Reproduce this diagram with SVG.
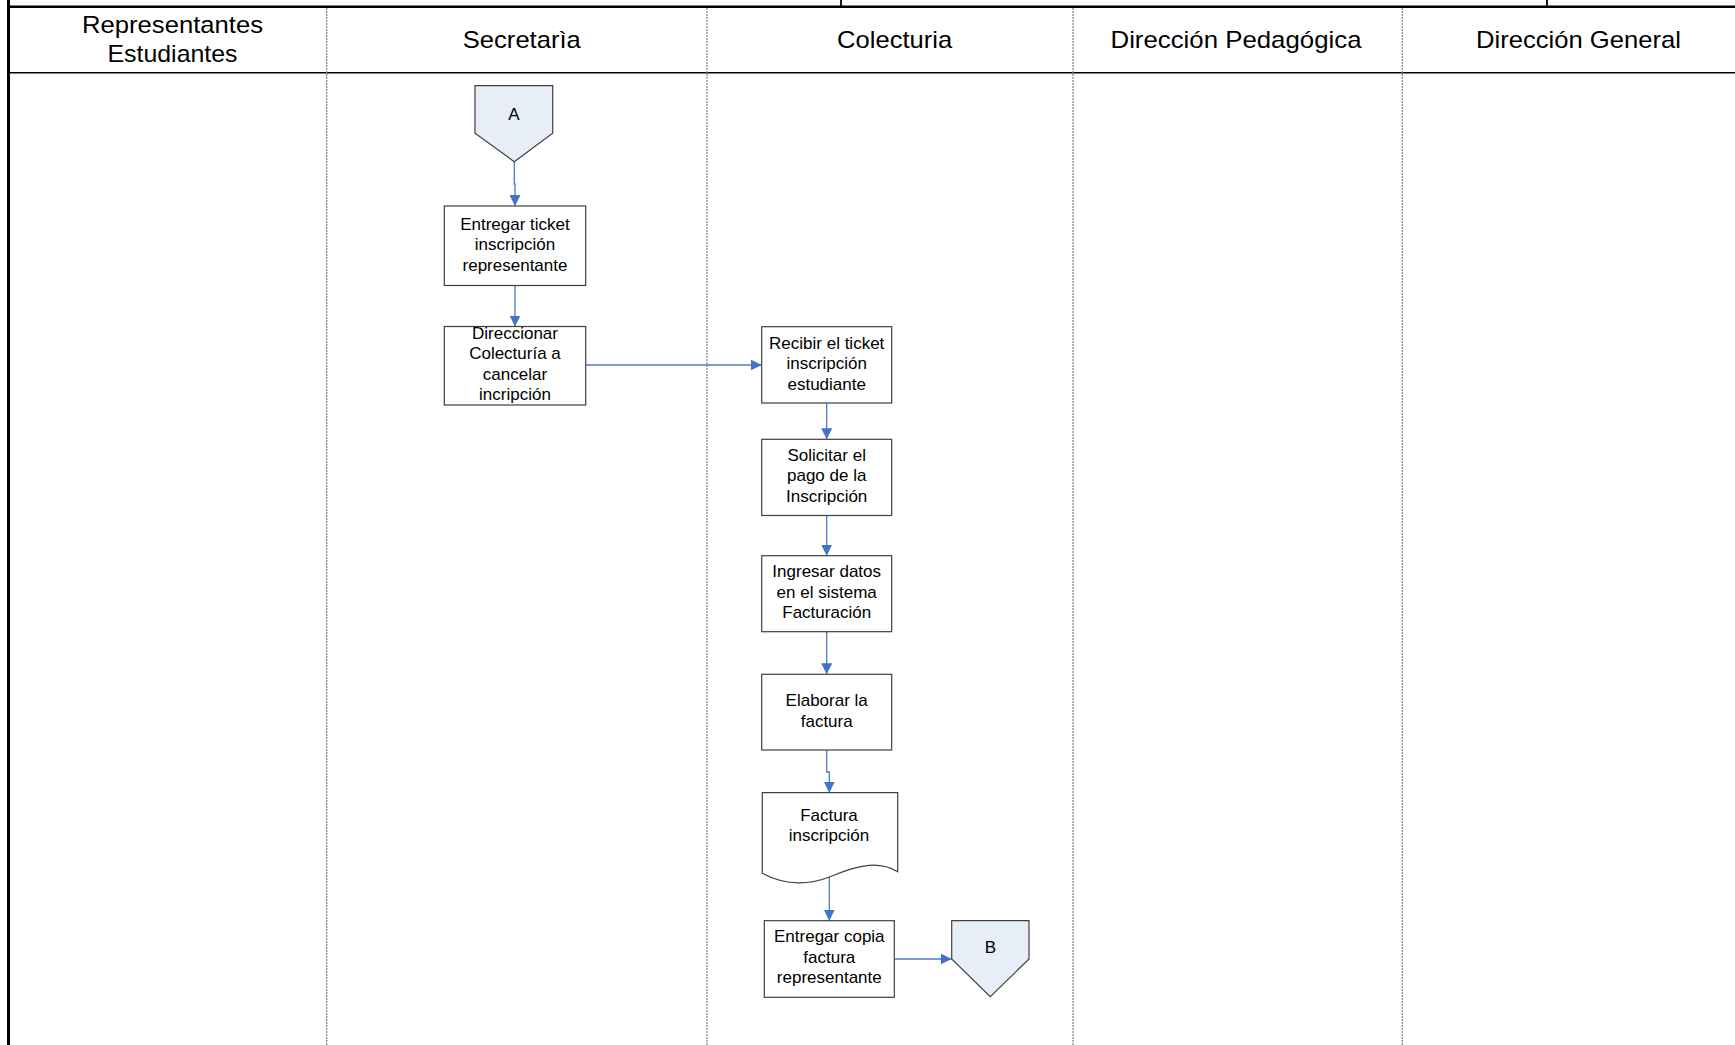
<svg xmlns="http://www.w3.org/2000/svg" width="1735" height="1045" viewBox="0 0 1735 1045">
  <defs>
    <style>
      .frame { stroke: #000; fill: none; }
      .lane { stroke: #7f7f7f; stroke-width: 1.2; stroke-dasharray: 2 1; fill: none; }
      .hdr { font-family: "Liberation Sans", Arial, sans-serif; font-size: 24px; fill: #000; text-anchor: middle; }
      .box { fill: #fff; stroke: #404040; stroke-width: 1.2; }
      .conn { fill: #e8eef8; stroke: #404040; stroke-width: 1.2; }
      .lbl { font-family: "Liberation Sans", Arial, sans-serif; font-size: 17px; fill: #000; text-anchor: middle; }
      .flow { fill: none; stroke: #4a7cc7; stroke-width: 1.3; }
    </style>
    <marker id="arrow" markerUnits="userSpaceOnUse" markerWidth="12" markerHeight="11" refX="11" refY="5.5" orient="auto">
      <path d="M0,0 L11,5.5 L0,11 Z" fill="#4472c4"/>
    </marker>
  </defs>

  <rect width="1735" height="1045" fill="#fff"/>

  <!-- swimlane frame -->
  <g id="frame">
    <line class="frame" x1="7" y1="6.7" x2="1735" y2="6.7" stroke-width="2.6"/>
    <line class="frame" x1="841" y1="0" x2="841" y2="6.7" stroke-width="1.8"/>
    <line class="frame" x1="1547" y1="0" x2="1547" y2="6.7" stroke-width="1.8"/>
    <line class="frame" x1="8.5" y1="0" x2="8.5" y2="1045" stroke-width="3"/>
    <line class="frame" x1="9" y1="72.7" x2="1735" y2="72.7" stroke-width="1.5"/>
    <line class="lane" x1="326.7" y1="8" x2="326.7" y2="1045"/>
    <line class="lane" x1="707" y1="8" x2="707" y2="1045"/>
    <line class="lane" x1="1073" y1="8" x2="1073" y2="1045"/>
    <line class="lane" x1="1402.3" y1="8" x2="1402.3" y2="1045"/>
  </g>

  <!-- lane headings -->
  <g id="headers">
    <text class="hdr" x="172.5" y="32.5" textLength="181" lengthAdjust="spacingAndGlyphs">Representantes</text>
    <text class="hdr" x="172.5" y="61.5" textLength="130" lengthAdjust="spacingAndGlyphs">Estudiantes</text>
    <text class="hdr" x="521.8" y="47.5" textLength="118" lengthAdjust="spacingAndGlyphs">Secretarìa</text>
    <text class="hdr" x="894.6" y="47.5" textLength="115" lengthAdjust="spacingAndGlyphs">Colecturia</text>
    <text class="hdr" x="1236" y="47.5" textLength="251" lengthAdjust="spacingAndGlyphs">Dirección Pedagógica</text>
    <text class="hdr" x="1578.5" y="47.5" textLength="205" lengthAdjust="spacingAndGlyphs">Dirección General</text>
  </g>

  <!-- connectors -->
  <g id="connectors">
    <path class="flow" d="M514.3,161.7 V184 H515 V206" marker-end="url(#arrow)"/>
    <path class="flow" d="M515,285.5 V326.5" marker-end="url(#arrow)"/>
    <path class="flow" d="M585.7,365 H761.7" marker-end="url(#arrow)"/>
    <path class="flow" d="M826.7,403 V439.3" marker-end="url(#arrow)"/>
    <path class="flow" d="M826.7,515.5 V555.7" marker-end="url(#arrow)"/>
    <path class="flow" d="M826.7,631.7 V674.3" marker-end="url(#arrow)"/>
    <path class="flow" d="M826.7,750 V772 H829.3 V792.7" marker-end="url(#arrow)"/>
    <path class="flow" d="M829.3,877 V920.7" marker-end="url(#arrow)"/>
    <path class="flow" d="M894.3,959 H951.7" marker-end="url(#arrow)"/>
  </g>

  <!-- off-page connector A -->
  <g id="conA">
    <path class="conn" d="M475,85.7 H552.7 V133.3 L514.3,161.7 L475,133.3 Z"/>
    <text class="lbl" x="514" y="119.5">A</text>
  </g>

  <g id="n1">
    <rect class="box" x="444.3" y="206" width="141.4" height="79.5"/>
    <text class="lbl" x="515" y="229.5">Entregar ticket</text>
    <text class="lbl" x="515" y="250">inscripción</text>
    <text class="lbl" x="515" y="270.5">representante</text>
  </g>

  <g id="n2">
    <rect class="box" x="444.3" y="326.5" width="141.4" height="78.5"/>
    <text class="lbl" x="515" y="339">Direccionar</text>
    <text class="lbl" x="515" y="359.3">Colecturía a</text>
    <text class="lbl" x="515" y="379.6">cancelar</text>
    <text class="lbl" x="515" y="399.9">incripción</text>
  </g>

  <g id="n3">
    <rect class="box" x="761.7" y="326.7" width="130" height="76.3"/>
    <text class="lbl" x="826.7" y="348.6">Recibir el ticket</text>
    <text class="lbl" x="826.7" y="369.1">inscripción</text>
    <text class="lbl" x="826.7" y="389.6">estudiante</text>
  </g>

  <g id="n4">
    <rect class="box" x="761.7" y="439.3" width="130" height="76.2"/>
    <text class="lbl" x="826.7" y="460.6">Solicitar el</text>
    <text class="lbl" x="826.7" y="481.1">pago de la</text>
    <text class="lbl" x="826.7" y="501.6">Inscripción</text>
  </g>

  <g id="n5">
    <rect class="box" x="761.7" y="555.7" width="130" height="76"/>
    <text class="lbl" x="826.7" y="577.2">Ingresar datos</text>
    <text class="lbl" x="826.7" y="597.7">en el sistema</text>
    <text class="lbl" x="826.7" y="618.2">Facturación</text>
  </g>

  <g id="n6">
    <rect class="box" x="761.7" y="674.3" width="130" height="75.7"/>
    <text class="lbl" x="826.7" y="706.3">Elaborar la</text>
    <text class="lbl" x="826.7" y="726.7">factura</text>
  </g>

  <!-- document shape -->
  <g id="doc">
    <path class="box" d="M762.3,792.7 H897.7 V871.7 C880,861 860,864 832,876 C805,887 782,884 762.3,873.3 Z"/>
    <text class="lbl" x="829" y="820.8">Factura</text>
    <text class="lbl" x="829" y="840.8">inscripción</text>
  </g>

  <g id="n7">
    <rect class="box" x="764.3" y="920.7" width="130" height="76.6"/>
    <text class="lbl" x="829.3" y="942">Entregar copia</text>
    <text class="lbl" x="829.3" y="962.5">factura</text>
    <text class="lbl" x="829.3" y="983">representante</text>
  </g>

  <!-- off-page connector B -->
  <g id="conB">
    <path class="conn" d="M951.7,920.7 H1029 V959 L990.3,996.7 L951.7,959 Z"/>
    <text class="lbl" x="990.3" y="952.5">B</text>
  </g>
</svg>
